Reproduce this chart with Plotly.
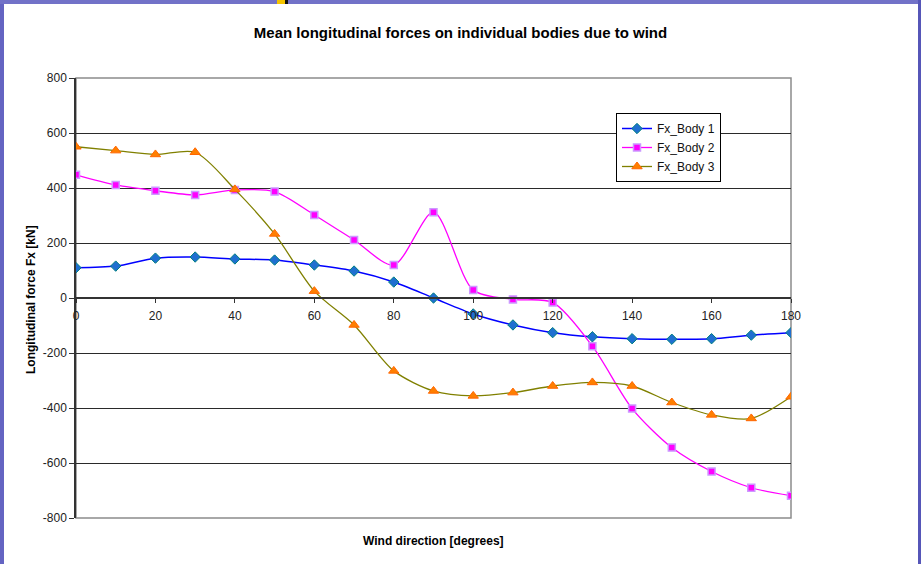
import plotly.graph_objects as go

# Wind direction (degrees)
wind_dir = [0, 10, 20, 30, 40, 50, 60, 70, 80, 90, 100, 110, 120, 130, 140, 150, 160, 170, 180]

# Mean longitudinal force Fx [kN] per body
fx_body1 = [110, 116, 145, 149, 142, 138, 120, 98, 58, 0, -58, -98, -126, -141, -148, -150, -148, -135, -126]
fx_body2 = [448, 411, 390, 375, 393, 387, 302, 211, 120, 312, 29, -5, -16, -175, -402, -544, -631, -690, -719]
fx_body3 = [550, 536, 522, 530, 395, 233, 25, -98, -265, -338, -356, -344, -320, -307, -320, -380, -425, -438, -359]

y_ticks = [-800, -600, -400, -200, 0, 200, 400, 600, 800]
y_tick_text = ["-800", "-600", "-400", "-200", "0", "200", "400", "600", "800"]
x_ticks = [0, 20, 40, 60, 80, 100, 120, 140, 160, 180]

FONT = "Liberation Sans, Arial, sans-serif"

fig = go.Figure()

fig.add_trace(go.Scatter(
    x=wind_dir, y=fx_body1, name="Fx_Body 1", mode="lines+markers",
    line=dict(color="#0000FF", width=1.5, shape="spline", smoothing=0.8),
    marker=dict(symbol="diamond", size=8, color="#1F6FD0",
                line=dict(color="#008080", width=1)),
))
fig.add_trace(go.Scatter(
    x=wind_dir, y=fx_body2, name="Fx_Body 2", mode="lines+markers",
    line=dict(color="#FF00FF", width=1.3, shape="spline", smoothing=0.8),
    marker=dict(symbol="square", size=7, color="#FF00FF",
                line=dict(color="#CC99FF", width=1.5)),
))
fig.add_trace(go.Scatter(
    x=wind_dir, y=fx_body3, name="Fx_Body 3", mode="lines+markers",
    line=dict(color="#808000", width=1.3, shape="spline", smoothing=0.8),
    marker=dict(symbol="triangle-up", size=9, color="#FF7F00",
                line=dict(color="#FF6600", width=1)),
))

# plot-area geometry in pixels
W, H = 921, 564
L, R, T, B = 76, 791, 78, 518
pw, ph = R - L, B - T


def px_x(px):
    return (px - L) / pw


def px_y(py):
    return (B - py) / ph


shapes = [
    # plot frame
    dict(type="rect", xref="paper", yref="paper", x0=0, x1=1, y0=0, y1=1,
         line=dict(color="#8C8C8C", width=1.5), layer="below"),
    # slide border strips
    dict(type="rect", xref="paper", yref="paper", x0=px_x(0), x1=px_x(4),
         y0=px_y(564), y1=px_y(0), line=dict(width=0), fillcolor="#6464C2"),
    dict(type="rect", xref="paper", yref="paper", x0=px_x(0), x1=px_x(921),
         y0=px_y(4), y1=px_y(0), line=dict(width=0), fillcolor="#7272C8"),
    dict(type="rect", xref="paper", yref="paper", x0=px_x(918), x1=px_x(921),
         y0=px_y(564), y1=px_y(0), line=dict(width=0), fillcolor="#5656B8"),
    dict(type="rect", xref="paper", yref="paper", x0=px_x(277), x1=px_x(285),
         y0=px_y(4), y1=px_y(0), line=dict(width=0), fillcolor="#F5C400"),
    dict(type="rect", xref="paper", yref="paper", x0=px_x(285), x1=px_x(288),
         y0=px_y(4), y1=px_y(0), line=dict(width=0), fillcolor="#111111"),
]

fig.update_layout(
    width=W, height=H,
    margin=dict(l=L, r=W - R, t=T, b=H - B, pad=0),
    paper_bgcolor="white", plot_bgcolor="white",
    font=dict(family=FONT, size=12, color="#222222"),
    title=dict(text="<b>Mean longitudinal forces on individual bodies due to wind</b>",
               x=0.5, xanchor="center", y=1 - 33 / H, yanchor="middle",
               font=dict(family=FONT, size=15, color="#000000")),
    xaxis=dict(range=[0, 180], tickvals=x_ticks, ticks="outside", ticklen=4,
               tickcolor="#333333", showline=True, linecolor="#333333", linewidth=1.5,
               showgrid=False, zeroline=False, anchor="free", position=0.5,
               ticklabelstandoff=3,
               tickfont=dict(family=FONT, size=12, color="#222222")),
    yaxis=dict(range=[-800, 800], tickvals=y_ticks, ticktext=y_tick_text,
               ticks="outside", ticklen=5,
               tickcolor="#333333", showline=True, linecolor="#333333", linewidth=1.5,
               showgrid=True, gridcolor="#2A2A2A", gridwidth=1, zeroline=False,
               tickfont=dict(family=FONT, size=12, color="#222222")),
    legend=dict(x=px_x(616), y=px_y(113), xanchor="left", yanchor="top",
                bgcolor="white", bordercolor="#000000", borderwidth=1,
                font=dict(family=FONT, size=12, color="#111111"),
                tracegroupgap=0, itemwidth=30),
    showlegend=True,
    shapes=shapes,
    annotations=[
        dict(text="<b>Wind direction [degrees]</b>", xref="paper", yref="paper",
             x=0.5, y=px_y(541), xanchor="center", yanchor="middle", showarrow=False,
             font=dict(family=FONT, size=12, color="#000000")),
        dict(text="<b>Longitudinal force Fx [kN]</b>", xref="paper", yref="paper",
             x=px_x(31), y=px_y(299), xanchor="center", yanchor="middle", textangle=-90,
             showarrow=False, font=dict(family=FONT, size=12, color="#000000")),
    ],
)

fig.write_html("out.html")
